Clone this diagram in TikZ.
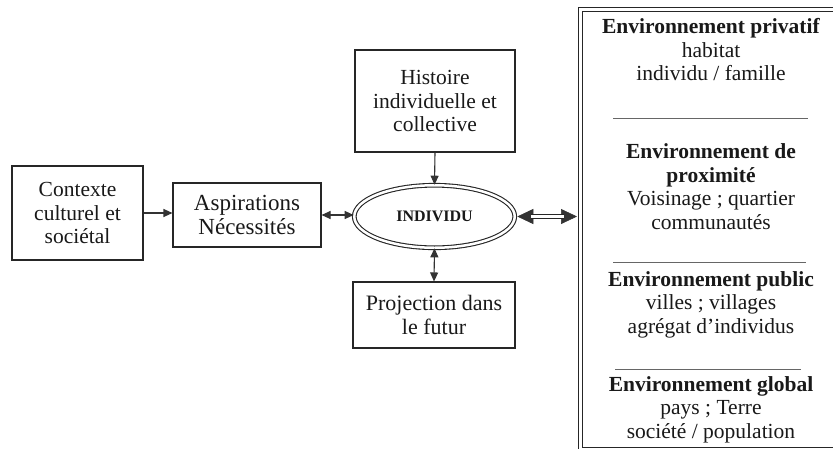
\documentclass[tikz,border=0pt]{standalone}
\usepackage{fontspec}
\setmainfont{Liberation Serif}
\usetikzlibrary{arrows.meta,shapes.geometric}
\begin{document}
\begin{tikzpicture}[x=1pt,y=-1pt,
  txt/.style={font=\fontsize{21.5}{23.5}\selectfont, align=center, text=black!90},
  box/.style={txt, draw=black!85, line width=1.1pt, rectangle, inner sep=0pt},
  arr/.style={-{Triangle[length=9pt,width=8pt]}, draw=black!80, fill=black!80, line width=1.1pt},
  darr/.style={{Triangle[length=9pt,width=8pt]}-{Triangle[length=9pt,width=8pt]}, draw=black!80, fill=black!80, line width=1.1pt},
  bigtip/.style={{Triangle[length=16pt,width=15pt]}-{Triangle[length=16pt,width=15pt]}, draw=black!80, fill=black!80, line width=0.6pt},
  dline/.style={draw=black!85, double=white, double distance=3pt, line width=1.1pt},
  sep/.style={draw=black!60, line width=0.8pt}
]
\useasboundingbox[fill=white] (0,0) rectangle (833,448);
\clip (0,0) rectangle (833,448);

% left boxes
\node[box, minimum width=131pt, minimum height=94pt] (ctx) at (77.5,213) {Contexte\\culturel et\\sociétal};
\node[box, minimum width=148pt, minimum height=64pt, font=\fontsize{23}{24.5}\selectfont] (asp) at (247,215) {Aspirations\\Nécessités};
\node[box, minimum width=160pt, minimum height=102pt] (hist) at (435,101) {Histoire\\individuelle et\\collective};
\node[box, minimum width=162pt, minimum height=66pt, font=\fontsize{22}{24.5}\selectfont] (proj) at (434,315) {Projection dans\\le futur};

% central ellipse
\node[ellipse, draw=black!85, double=white, double distance=2.5pt, line width=1.1pt,
      minimum width=160.5pt, minimum height=62.5pt, inner sep=0pt,
      font=\fontsize{16}{18}\selectfont\bfseries, text=black!90] (ell) at (434.5,216.5) {INDIVIDU};

% right box
\node[dline, line width=1.2pt, rectangle, minimum width=265pt, minimum height=440pt,
      anchor=north west, inner sep=0pt] (env) at (579.7,8.7) {};

\node[txt] (s1) at (711,50) {\textbf{Environnement privatif}\\habitat\\individu / famille};
\node[txt] (s2) at (711,186.5) {\textbf{Environnement de}\\\textbf{proximité}\\Voisinage ; quartier\\communautés};
\node[txt] (s3) at (711,304.5) {\textbf{Environnement public}\\villes ; villages\\agrégat d’individus};
\node[txt] (s4) at (711,409.5) {\textbf{Environnement global}\\pays ; Terre\\société / population};

\draw[sep] (613,118) -- (808,118);
\draw[sep] (613,262) -- (806,262);
\draw[sep] (615,369) -- (801,369);

% connectors
\draw[arr] (ctx.east) -- (ctx.east -| asp.west);
\draw[darr] (asp.east) -- (asp.east -| ell.west);
\draw[arr] (hist.south) -- (ell.north);
\draw[darr] (ell.south) -- (proj.north);

\draw[bigtip, shorten <=2pt, shorten >=2.7pt] (ell.east) -- (ell.east -| env.west);
\draw[dline, shorten <=16pt, shorten >=16pt] (ell.east) -- (ell.east -| env.west);
\end{tikzpicture}
\end{document}
